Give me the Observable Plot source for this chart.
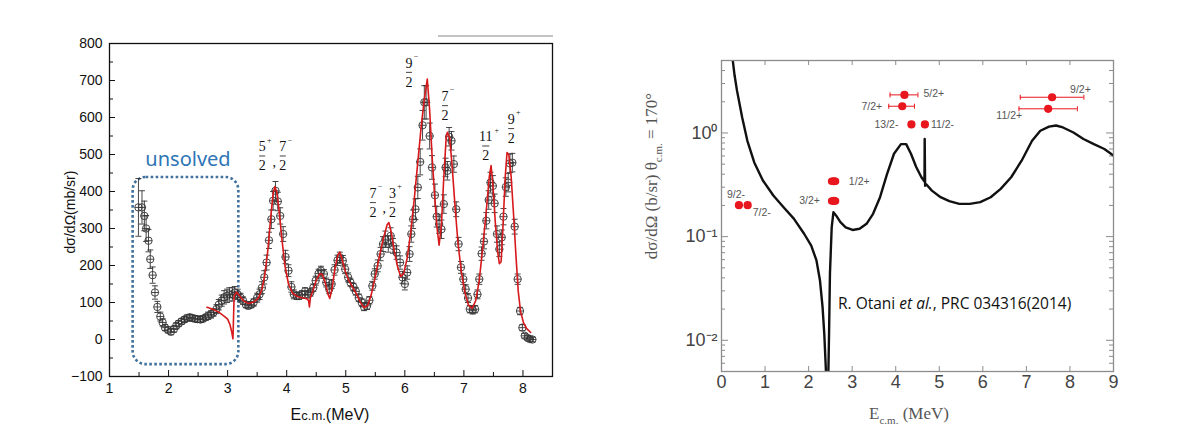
<!DOCTYPE html>
<html><head><meta charset="utf-8">
<script src="https://cdn.jsdelivr.net/npm/d3@7"></script>
<script src="https://cdn.jsdelivr.net/npm/@observablehq/plot@0.6"></script>
<style>
body{margin:0;background:#fff;}
#wrap{position:relative;width:1198px;height:435px;overflow:hidden;background:#fff;}
#left{position:absolute;left:0;top:0;}
#right{position:absolute;left:600px;top:0;}
.lbl{position:absolute;white-space:nowrap;line-height:1;}
</style></head><body>
<div id="wrap">
  <div id="left"></div>
  <div id="right"></div>
  <div class="lbl" style="left:438px;top:35px;width:115px;height:2px;background:#c4c4c4"></div>
  <div class="lbl" style="left:70px;top:212px;transform:translate(-50%,-50%) rotate(-90deg);font:14px 'Liberation Sans',Arial,sans-serif;color:#111">dσ/dΩ(mb/sr)</div>
  <div class="lbl" style="left:330px;top:415px;transform:translate(-50%,-50%);font:16px 'Liberation Sans',Arial,sans-serif;color:#111">E<span style="font-size:13px">c.m.</span>(MeV)</div>
  <div class="lbl" style="left:188px;top:158px;transform:translate(-50%,-50%);font:20px 'Noto Sans','Open Sans',sans-serif;color:#2e75b6">unsolved</div>
  <div class="lbl" style="left:653px;top:176px;transform:translate(-50%,-50%) rotate(-90deg);font:17px 'Liberation Serif','DejaVu Serif',serif;color:#555">dσ/dΩ (b/sr) θ<sub style="font-size:11px">c.m.</sub> = 170°</div>
  <div class="lbl" style="left:909px;top:415px;transform:translate(-50%,-50%);font:17px 'Liberation Serif','DejaVu Serif',serif;color:#555">E<sub style="font-size:11px">c.m.</sub> (MeV)</div>
  <div class="lbl" style="left:838px;top:303px;transform:translate(0,-50%);font:15.5px 'Open Sans','Noto Sans',sans-serif;color:#111">R. Otani <i>et al.</i>, PRC 034316(2014)</div>
</div>
<script>
// ---------- Left chart data: experimental points ----------
const expE = [
1.49,1.55,1.59,1.62,1.66,1.69,1.73,1.77,1.81,1.86,
1.90,1.94,1.99,2.04,2.09,2.13,2.17,2.22,2.27,2.31,
2.36,2.40,2.45,2.49,2.54,2.58,2.63,2.67,2.72,2.76,
2.81,2.85,2.90,2.94,2.99,3.03,3.08,3.12,3.17,3.22,
3.26,3.31,3.35,3.40,3.44,3.50,3.54,3.58,3.62,3.66,
3.70,3.74,3.77,3.81,3.85,3.89,3.94,3.98,4.03,4.08,
4.12,4.17,4.21,4.26,4.31,4.36,4.40,4.45,4.49,4.54,
4.58,4.63,4.67,4.72,4.76,4.81,4.86,4.90,4.95,4.99,
5.04,5.08,5.13,5.17,5.22,5.27,5.31,5.36,5.40,5.45,
5.49,5.54,5.59,5.63,5.67,5.72,5.76,5.80,5.86,5.92,
5.96,6.00,6.04,6.08,6.11,6.14,6.18,6.22,6.26,6.30,
6.33,6.36,6.42,6.46,6.51,6.54,6.58,6.62,6.66,6.69,
6.72,6.75,6.79,6.83,6.87,6.91,6.95,6.99,7.03,7.07,
7.10,7.15,7.19,7.23,7.26,7.30,7.34,7.38,7.42,7.45,
7.49,7.52,7.56,7.60,7.64,7.67,7.71,7.75,7.78,7.82,
7.86,7.91,7.95,7.99,8.03,8.08,8.12,8.16];
const expV = [
357,357,334,300,267,217,174,127,88,62,
46,32,26,21,28,37,43,49,54,58,
60,58,56,55,54,56,60,64,68,73,
82,94,105,114,118,122,122,127,122,113,
105,94,91,94,100,113,122,140,168,208,
268,325,375,402,373,334,285,223,186,142,
122,118,118,122,130,122,127,140,159,178,
186,177,154,136,150,188,214,222,213,190,
168,154,142,130,113,100,88,91,106,145,
177,199,231,258,271,258,280,253,235,208,
168,150,181,231,285,325,352,411,480,579,
641,641,550,465,390,332,312,298,366,465,
456,548,537,474,352,258,195,163,136,112,
82,79,82,122,163,232,265,321,377,424,
415,368,285,244,276,332,412,424,476,478,
305,163,77,32,10,4,1,0];
const expErr = [
78,45,40,35,30,25,22,18,15,12,
10,8,8,8,8,8,8,8,8,8,
8,8,8,8,8,8,8,10,10,10,
12,14,15,18,18,18,18,16,14,12,
10,8,8,8,10,12,14,16,18,20,
22,25,25,25,25,22,20,18,16,14,
12,10,10,10,10,10,10,10,12,12,
12,12,12,12,12,14,14,14,14,12,
12,10,10,10,10,10,10,10,10,12,
14,16,18,20,22,22,22,20,18,18,
16,16,18,20,22,25,28,30,35,40,
45,45,35,32,30,28,25,25,25,25,
25,25,25,22,20,18,16,14,12,12,
10,10,10,12,14,18,20,22,25,28,
28,25,22,20,20,22,25,25,25,25,
20,14,10,8,6,6,6,6];

// ---------- Left chart: R-matrix fit (red) ----------
const fitE = [2.65,2.75,2.85,2.95,3.00,3.04,3.07,3.09,3.10,3.11,3.15,3.20,3.28,3.36,3.45,3.52,3.58,3.63,3.68,3.73,
3.77,3.80,3.83,3.87,3.92,3.97,4.03,4.10,4.18,4.26,4.34,4.37,4.385,4.40,4.44,4.50,4.56,4.60,4.65,4.70,
4.73,4.77,4.82,4.87,4.90,4.94,4.99,5.05,5.12,5.19,5.25,5.31,5.37,5.43,5.50,5.57,5.64,5.70,5.73,5.77,
5.82,5.88,5.93,5.98,6.04,6.10,6.16,6.22,6.28,6.33,6.38,6.42,6.46,6.50,6.54,6.58,6.62,6.66,6.70,6.72,
6.76,6.80,6.85,6.90,6.96,7.02,7.08,7.14,7.20,7.26,7.32,7.38,7.43,7.46,7.49,7.53,7.57,7.60,7.63,7.66,
7.70,7.73,7.76,7.80,7.84,7.88,7.92,7.96,8.01,8.06,8.13];
const fitV = [87,82,74,62,55,40,20,2,60,118,128,118,103,97,102,112,135,175,240,330,
395,413,400,350,270,200,150,125,116,113,110,105,88,112,130,160,178,176,155,122,
111,140,195,230,236,215,185,160,140,120,100,86,92,120,170,225,275,310,316,290,
240,195,170,178,220,290,380,480,580,650,704,620,500,400,310,255,310,440,545,560,
545,470,360,260,180,125,92,84,105,160,250,350,440,470,420,320,240,205,210,300,
440,505,500,440,340,230,130,75,45,30,19];

// ---------- Left chart: spin-parity annotations ----------
const spinE = [3.585, 3.934, 5.46, 5.79, 6.07, 6.68, 7.37, 7.80];
const spinV = [496, 496, 370, 370, 722, 632, 523, 570];
const spinNum = ["5","7","7","3","9","7","11","9"];
const spinSign = ["+","−","−","+","−","−","+","+"];
const spinDen = ["2","2","2","2","2","2","2","2"];
const commaE = [3.79, 5.65];
const commaV = [478, 354];
const unsolvedBox = {e1: 1.40, e2: 3.19, v1: -68, v2: 438};

const xTicksL = [1,2,3,4,5,6,7,8];
const xMinorL = [1.5,2.5,3.5,4.5,5.5,6.5,7.5];
const yTicksL = [-100,0,100,200,300,400,500,600,700,800];
const yMinorL = [-50,50,150,250,350,450,550,650,750];

// ---------- Right chart data ----------
const curveE = [0.20,0.30,0.356,0.475,0.594,0.752,0.95,1.19,1.425,1.66,1.90,2.06,2.18,2.26,2.32,2.36,2.39,2.42,2.45,2.47,
2.49,2.53,2.57,2.63,2.73,2.85,3.01,3.17,3.33,3.48,3.64,3.80,3.96,4.12,4.24,4.35,4.47,4.59,4.66,4.665,
4.675,4.70,4.83,5.03,5.23,5.46,5.70,5.94,6.18,6.41,6.65,6.89,7.13,7.32,7.52,7.68,7.84,8.08,8.31,8.55,8.79,9.0];
const curveV = [8,3.6,2.56,1.41,0.84,0.52,0.348,0.249,0.192,0.149,0.106,0.082,0.059,0.038,0.021,0.0115,0.006,0.003,0.004,0.012,
0.044,0.123,0.172,0.16,0.138,0.123,0.116,0.119,0.133,0.166,0.24,0.40,0.63,0.78,0.78,0.63,0.47,0.374,0.34,0.875,
0.31,0.32,0.278,0.24,0.22,0.207,0.207,0.215,0.24,0.289,0.374,0.54,0.84,1.05,1.15,1.18,1.13,1.01,0.875,0.78,0.70,0.605];

const levelName = ["9/2-","7/2-","3/2+","1/2+","7/2+","5/2+","13/2-","11/2-","11/2+","9/2+"];
const levelE   = [0.40, 0.60, 2.58, 2.58, 4.15, 4.20, 4.36, 4.67, 7.50, 7.59];
const levelV   = [0.201,0.201,0.221,0.342,1.81, 2.33, 1.21, 1.21, 1.71, 2.21];
const levelLo  = [null, null, 2.54, 2.54, 3.84, 3.87, null, null, 6.83, 6.86];
const levelHi  = [null, null, 2.63, 2.63, 4.43, 4.51, null, null, 8.17, 8.32];

const xTicksR = [0,1,2,3,4,5,6,7,8,9];
const yTicksR = [0.01, 0.1, 1];
const yTickLabelsR = ["10⁻²","10⁻¹","10⁰"];
const yMinorR = [0.006,0.007,0.008,0.009,0.02,0.03,0.04,0.05,0.06,0.07,0.08,0.09,
                 0.2,0.3,0.4,0.5,0.6,0.7,0.8,0.9,2,3,4];

// ---------- helpers ----------
const hline = {draw(ctx, size){const r = Math.sqrt(size/Math.PI); ctx.moveTo(-r,0); ctx.lineTo(r,0);}};
const vline = {draw(ctx, size){const r = Math.sqrt(size/Math.PI); ctx.moveTo(0,-r); ctx.lineTo(0,r);}};

const exp = expE.map((e,i)=>({e, v: expV[i], d: expErr[i]}));
const fit = fitE.map((e,i)=>({e, v: fitV[i]}));
const spins = spinE.map((e,i)=>({e, v: spinV[i], num: spinNum[i], sign: spinSign[i], den: spinDen[i]}));
const commas = commaE.map((e,i)=>({e, v: commaV[i]}));
const serif = "'Liberation Serif', 'DejaVu Serif', serif";

// ---------- Left plot ----------
const LW = 600, LH = 435, LML = 109, LMR = 48, LMT = 43, LMB = 59;
const LIW = LW - LML - LMR, LIH = LH - LMT - LMB;
const ink = "#333";
const left = Plot.plot({
  width: LW, height: LH, marginLeft: LML, marginRight: LMR, marginTop: LMT, marginBottom: LMB,
  style: {fontFamily: "'Liberation Sans', Arial, sans-serif", fontSize: "14px", color: "#111", background: "transparent"},
  x: {domain: [1, 8.5]},
  y: {domain: [-100, 800]},
  marks: [
    Plot.rect([unsolvedBox], {x1: "e1", x2: "e2", y1: "v1", y2: "v2", rx: 13, fill: "none",
      stroke: "#41719c", strokeWidth: 2.6, strokeDasharray: "2.6,2.4"}),
    Plot.tickX(xTicksL, {x: d => d, insetTop: LIH - 6, stroke: "#111"}),
    Plot.tickX(xMinorL, {x: d => d, insetTop: LIH - 4, stroke: "#111"}),
    Plot.tickY(yTicksL, {y: d => d, insetRight: LIW - 6, stroke: "#111"}),
    Plot.tickY(yMinorL, {y: d => d, insetRight: LIW - 4, stroke: "#111"}),
    Plot.axisX({ticks: xTicksL, tickSize: 0, tickPadding: 7, label: null, fontSize: 14}),
    Plot.axisY({ticks: yTicksL, tickSize: 0, tickPadding: 7, label: null, fontSize: 14}),
    Plot.ruleX(exp, {x: "e", y1: d => d.v - d.d, y2: d => d.v + d.d, stroke: ink, strokeWidth: 0.9}),
    Plot.dot(exp, {x: "e", y: d => d.v + d.d, symbol: hline, r: 3, stroke: ink, fill: "none", strokeWidth: 0.9}),
    Plot.dot(exp, {x: "e", y: d => d.v - d.d, symbol: hline, r: 3, stroke: ink, fill: "none", strokeWidth: 0.9}),
    Plot.dot(exp, {x: "e", y: "v", r: 3.7, stroke: ink, fill: "none", strokeWidth: 0.9}),
    Plot.dot(exp, {x: "e", y: "v", symbol: hline, r: 3.7, stroke: ink, fill: "none", strokeWidth: 0.9}),
    Plot.line(fit, {x: "e", y: "v", stroke: "#d7191c", strokeWidth: 1.6}),
    // spin-parity fractions
    Plot.text(spins, {x: "e", y: "v", text: "num", dy: -9, fontFamily: serif, fontSize: 14, fill: "#111"}),
    Plot.text(spins, {x: "e", y: "v", text: "den", dy: 10, fontFamily: serif, fontSize: 14, fill: "#111"}),
    Plot.dot(spins, {x: "e", y: "v", symbol: hline, r: d => d.num.length > 1 ? 7 : 5, stroke: "#111", strokeWidth: 0.8}),
    Plot.text(spins.filter(d => d.num.length === 1), {x: "e", y: "v", text: "sign", dx: 7, dy: -16, fontFamily: serif, fontSize: 8, fill: "#111"}),
    Plot.text(spins.filter(d => d.num.length > 1), {x: "e", y: "v", text: "sign", dx: 11, dy: -16, fontFamily: serif, fontSize: 8, fill: "#111"}),
    Plot.text(commas, {x: "e", y: "v", text: d => ",", fontFamily: serif, fontSize: 14, fill: "#111"}),
    Plot.frame({stroke: "#111", strokeWidth: 1.3})
  ]
});
document.getElementById("left").append(left);

// ---------- Right plot ----------
const RW = 598, RH = 435, RML = 121, RMR = 85, RMT = 60, RMB = 64;
const RIW = RW - RML - RMR, RIH = RH - RMT - RMB;
const gray = "#8c8c8c";
const red = "#e8161d";
const curve = curveE.map((e,i)=>({e, v: curveV[i]}));
const levels = levelName.map((n,i)=>({name: n, e: levelE[i], v: levelV[i], lo: levelLo[i], hi: levelHi[i]}));
const wideErr = levels.filter(d => d.lo != null && d.hi - d.lo > 0.2);
const narrowErr = levels.filter(d => d.lo != null && d.hi - d.lo <= 0.2);
const place = {
  "9/2-": {dx: -3, dy: -11, anchor: "middle"},
  "7/2-": {dx: 5, dy: 7, anchor: "start"},
  "3/2+": {dx: -14, dy: 0, anchor: "end"},
  "1/2+": {dx: 15, dy: 0, anchor: "start"},
  "7/2+": {dx: -20, dy: 0, anchor: "end"},
  "5/2+": {dx: 19, dy: -1, anchor: "start"},
  "13/2-": {dx: -13, dy: 0, anchor: "end"},
  "11/2-": {dx: 6, dy: 0, anchor: "start"},
  "11/2+": {dx: -26, dy: 7, anchor: "end"},
  "9/2+": {dx: 18, dy: -8, anchor: "start"}
};
const labelMarks = levels.map(d => Plot.text([d], {x: "e", y: "v", text: "name",
  dx: place[d.name].dx, dy: place[d.name].dy, textAnchor: place[d.name].anchor,
  fontSize: 10.5, fill: "#555", fontFamily: "'Liberation Sans', Arial, sans-serif"}));

const right = Plot.plot({
  width: RW, height: RH, marginLeft: RML, marginRight: RMR, marginTop: RMT, marginBottom: RMB,
  style: {fontFamily: "'Liberation Sans', Arial, sans-serif", fontSize: "17px", color: "#444", background: "transparent"},
  x: {domain: [0, 9]},
  y: {type: "log", domain: [0.005, 5]},
  marks: [
    Plot.tickX(xTicksR, {x: d => d, insetTop: RIH - 5, stroke: gray}),
    Plot.tickX(xTicksR, {x: d => d, insetBottom: RIH - 5, stroke: gray}),
    Plot.tickY(yTicksR, {y: d => d, insetRight: RIW - 7, stroke: gray}),
    Plot.tickY(yMinorR, {y: d => d, insetRight: RIW - 4, stroke: gray}),
    Plot.tickY(yTicksR, {y: d => d, insetLeft: RIW - 7, stroke: gray}),
    Plot.tickY(yMinorR, {y: d => d, insetLeft: RIW - 4, stroke: gray}),
    Plot.axisX({ticks: xTicksR, tickSize: 0, tickPadding: 4, label: null, fontSize: 18}),
    Plot.axisY({ticks: yTicksR, tickSize: 0, tickPadding: 4, label: null, fontSize: 18,
      tickFormat: d => yTickLabelsR[yTicksR.indexOf(d)]}),
    Plot.line(curve, {x: "e", y: "v", stroke: "#111", strokeWidth: 2.4, clip: true}),
    Plot.ruleY(wideErr, {x1: "lo", x2: "hi", y: "v", stroke: red, strokeWidth: 1}),
    Plot.dot(wideErr, {x: "lo", y: "v", symbol: vline, r: 2.5, stroke: red, strokeWidth: 1}),
    Plot.dot(wideErr, {x: "hi", y: "v", symbol: vline, r: 2.5, stroke: red, strokeWidth: 1}),
    Plot.ruleY(narrowErr, {x1: "lo", x2: "hi", y: "v", stroke: red, strokeWidth: 7.5, strokeLinecap: "round"}),
    Plot.dot(levels, {x: "e", y: "v", r: 4.1, fill: red, stroke: "none"}),
    ...labelMarks,
    Plot.frame({stroke: gray, strokeWidth: 1.3})
  ]
});
document.getElementById("right").append(right);
</script>
</body></html>
